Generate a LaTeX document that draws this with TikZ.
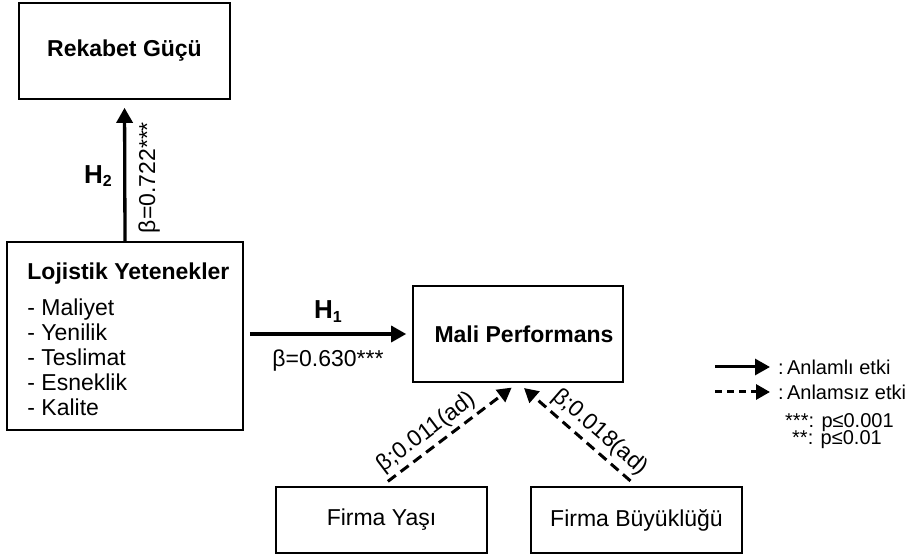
\documentclass[tikz,border=0pt]{standalone}
\usepackage{fontspec}
\setmainfont{Liberation Sans}
\usetikzlibrary{arrows.meta,positioning}
\newcommand{\hyp}[1]{H\raisebox{-3.5pt}{\fontsize{16}{16}\selectfont #1}}
\tikzset{
	box/.style={draw, line width=1.6pt, inner sep=0pt},
	bigfont/.style={font=\fontsize{23}{25}\selectfont},
	boldfont/.style={font=\bfseries\fontsize{23}{25}\selectfont},
	hypfont/.style={font=\bfseries\fontsize{26}{28}\selectfont},
	legendfont/.style={font=\fontsize{20}{22}\selectfont},
	sigArrow/.style={line width=3.3pt, -{Triangle[length=15pt,width=16pt]}},
	nonsigArrow/.style={line width=3pt, dash pattern=on 10pt off 6pt, -{Triangle[length=14pt,width=15pt]}}
}

\begin{document}
\begin{tikzpicture}[x=1pt,y=1pt]
		\useasboundingbox (0,0) rectangle (912,556);
		% boxes
		\node[box, boldfont, minimum width=211pt, minimum height=96pt] (rekabet) at (124.5,505) {Rekabet Güçü};
		\node[box, minimum width=236pt, minimum height=188pt] (lojistik) at (125,220) {};
		\node[bigfont, anchor=north west, align=left, inner sep=0pt] (lojistikText) at ([shift={(21,-21)}]lojistik.north west) {\textbf{Lojistik Yetenekler}\\[11pt]- Maliyet\\- Yenilik\\- Teslimat\\- Esneklik\\- Kalite};
		\node[box, boldfont, minimum width=210pt, minimum height=96pt] (mali) at (518,222) {\hspace*{12pt}Mali Performans};
		\node[box, bigfont, minimum width=211pt, minimum height=66pt] (yas) at (381.5,36) {Firma Yaşı};
		\node[box, bigfont, minimum width=211pt, minimum height=66pt] (buyukluk) at (636.5,36) {Firma Büyüklüğü};
		% arrows
		\draw[sigArrow, shorten >=8pt] (lojistik.north) -- node[hypfont, pos=0.46, left=8pt] (h2) {\hyp{2}} node[bigfont, pos=0.45, rotate=90, anchor=north, inner ysep=12pt] (beta2) {β=0.722***} (rekabet.south);
		\draw[sigArrow, shorten <=6pt, shorten >=6pt] (lojistik.east |- mali.west) -- node[hypfont, above=7pt] (h1) {\hyp{1}} node[bigfont, below=11pt] (beta1) {β=0.630***} (mali.west);
		\draw[nonsigArrow, shorten <=8pt, shorten >=8pt] (yas.north) -- node[bigfont, pos=0.4, sloped, above] (beta3) {β;0.011(ad)} (mali.south);
		\draw[nonsigArrow, shorten <=8pt, shorten >=8pt] (buyukluk.north) -- node[bigfont, pos=0.4, sloped, above=1pt] (beta4) {β;0.018(ad)} (mali.south);
		% legend
		\coordinate (legSolid) at (715,189);
		\coordinate (legDashed) at (715,164);
		\node[legendfont, anchor=west, inner ysep=0pt, inner xsep=8pt] (anlamli) at (770,189) {:\,Anlamlı etki};
		\node[legendfont, anchor=west, inner ysep=0pt, inner xsep=8pt] (anlamsiz) at (770,164) {:\,Anlamsız etki};
		\draw[sigArrow, line width=3pt] (legSolid) -- (anlamli.west);
		\draw[nonsigArrow, dash pattern=on 7pt off 5pt] (legDashed) -- (anlamsiz.west);
		\node[legendfont, anchor=base west, inner sep=0pt] (p001) at (785,128) {***: p≤0.001};
		\node[legendfont, anchor=base west, inner sep=0pt] (p01) at (792,111) {**: p≤0.01};
\end{tikzpicture}
\end{document}
